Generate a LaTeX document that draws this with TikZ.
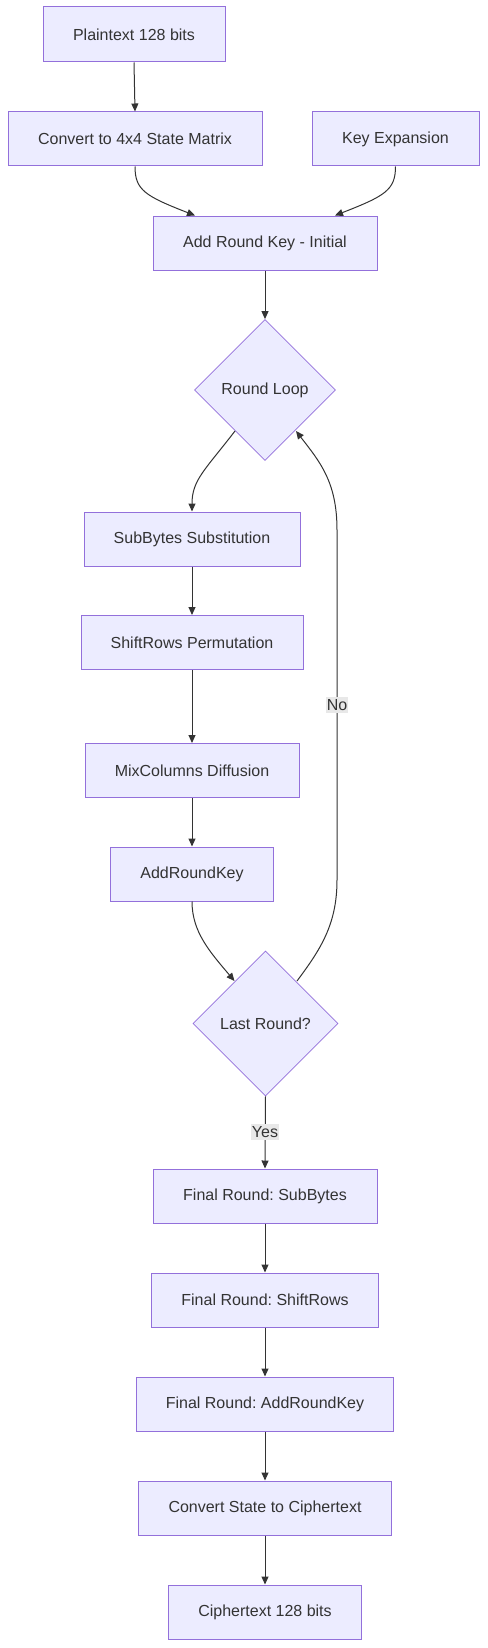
\documentclass[tikz,border=0pt]{standalone}
\usepackage{fontspec}
\setmainfont{Liberation Sans}
\usetikzlibrary{arrows.meta,shapes.geometric}
\definecolor{nodefill}{HTML}{ECECFF}
\definecolor{nodeline}{HTML}{9370DB}
\definecolor{ink}{HTML}{333333}
\definecolor{lblbg}{HTML}{E8E8E8}
\frenchspacing
\tikzset{
  box/.style={draw=nodeline,fill=nodefill,line width=1pt,text=ink,font=\fontsize{16pt}{19pt}\selectfont,inner sep=0pt,anchor=center},
  dia/.style={draw=nodeline,fill=nodefill,line width=0.8pt,text=ink,font=\fontsize{16pt}{19pt}\selectfont,diamond,inner sep=0pt,aspect=1},
  conn/.style={draw=ink,line width=1pt,-{Triangle[length=8pt,width=7pt]}},
  lbl/.style={fill=lblbg,text=ink,font=\fontsize{16pt}{19pt}\selectfont,inner xsep=1pt,inner ysep=2pt},
}
\begin{document}
\begin{tikzpicture}[x=1pt,y=-1pt]
\useasboundingbox (0,0) rectangle (487,1648);
\node[box,minimum width=182pt,minimum height=55pt] (pt) at (134,34.5) {Plaintext 128 bits};
\node[box,minimum width=254pt,minimum height=54pt] (cv) at (135,139) {Convert to 4x4 State Matrix};
\node[box,minimum width=167pt,minimum height=54pt] (ke) at (395.5,139) {Key Expansion};
\node[box,minimum width=224pt,minimum height=54pt] (ark) at (265,243) {Add Round Key - Initial};
\node[dia,minimum width=141pt,minimum height=141pt] (rl) at (265,390) {Round Loop};
\node[box,minimum width=216pt,minimum height=54pt] (sb) at (192,539) {SubBytes Substitution};
\node[box,minimum width=222pt,minimum height=54pt] (sr) at (192,642.5) {ShiftRows Permutation};
\node[box,minimum width=214pt,minimum height=54pt] (mc) at (192,770.5) {MixColumns Diffusion};
\node[box,minimum width=163pt,minimum height=54pt] (ak) at (192,874) {AddRoundKey};
\node[dia,minimum width=145pt,minimum height=145pt] (lr) at (265.5,1023.5) {Last Round?};
\node[box,minimum width=224pt,minimum height=54pt] (fsb) at (265,1196) {Final Round: SubBytes};
\node[box,minimum width=227pt,minimum height=54pt] (fsr) at (265,1300) {Final Round: ShiftRows};
\node[box,minimum width=257pt,minimum height=54pt] (fak) at (265,1404) {Final Round: AddRoundKey};
\node[box,minimum width=253pt,minimum height=54pt] (cs) at (265,1508) {Convert State to Ciphertext};
\node[box,minimum width=193pt,minimum height=54pt] (ct) at (265,1612) {Ciphertext 128 bits};

\draw[conn] (pt.south) -- (cv.north);
\draw[conn] (cv.south) .. controls (135,190) and (145,196) .. ([xshift=-70pt]ark.north);
\draw[conn] (ke.south) .. controls (395.5,190) and (385,196) .. ([xshift=70pt]ark.north);
\draw[conn] (ark.south) -- (rl.north);
\draw[conn] ([shift={(-30pt,-41pt)}]rl.center) .. controls (205,470) and (192,480) .. (sb.north);
\draw[conn] (sb.south) -- (sr.north);
\draw[conn] (sr.south) -- (mc.north);
\draw[conn] (mc.south) -- (ak.north);
\draw[conn] (ak.south) .. controls (192,932) and (210,952) .. ([shift={(-31pt,42.5pt)}]lr.center);
\draw[conn] ([shift={(31.5pt,42.5pt)}]lr.center) .. controls (320,950) and (337,925) .. (337,880)
   -- (337,530) .. controls (337,482) and (320,462) .. ([shift={(31pt,-41pt)}]rl.center);
\node[lbl] (nolbl) at (337,705) {No};
\draw[conn] (lr.south) -- (fsb.north);
\node[lbl] (yes) at (265,1132) {Yes};
\draw[conn] (fsb.south) -- (fsr.north);
\draw[conn] (fsr.south) -- (fak.north);
\draw[conn] (fak.south) -- (cs.north);
\draw[conn] (cs.south) -- (ct.north);
\end{tikzpicture}
\end{document}
